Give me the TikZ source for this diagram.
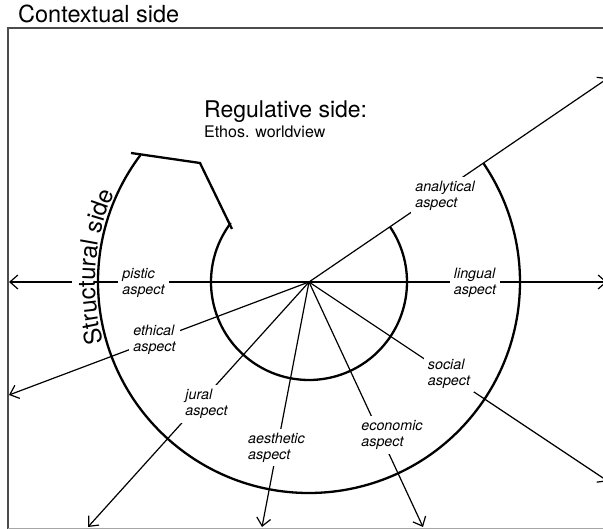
\documentclass[tikz,border=0pt]{standalone}
\usepackage{fontspec}
\setmainfont{TeX Gyre Heros}
\usetikzlibrary{arrows.meta,decorations.text}
\begin{document}
\begin{tikzpicture}[x=1pt,y=1pt,
  frame/.style={draw=black!70,line width=1.2pt},
  aspline/.style={line width=1.2pt},
  arr/.style={aspline,-{Straight Barb[length=8pt,width=14pt]}},
  ring/.style={line width=2.3pt},
  lbl/.style={fill=white,inner sep=4pt,align=left,font=\itshape\fontsize{14.3}{16}\selectfont},
]
\useasboundingbox (0,0) rectangle (603,529);
\clip (0,0) rectangle (603,529);
% frame
\draw[frame] (612,501) -- (8,501) -- (8,-5);
\draw[draw=black!35,line width=1pt] (8,0.6) -- (612,0.6);
% coordinates
\coordinate (O) at (309,247);
\coordinate (tAna) at (608,450.9);
\coordinate (tLin) at (607,247);
\coordinate (tSoc) at (608,47.7);
\coordinate (tEco) at (423,2);
\coordinate (tAes) at (262,2);
\coordinate (tJur) at (88,2);
\coordinate (tEth) at (9,134);
\coordinate (tPis) at (9,247);
\coordinate (pIn) at (95,247);
\coordinate (pOut) at (72,247);
% aspect lines
\draw[arr] (O) -- (tAna);
\draw[arr] (O) -- (tLin);
\draw[arr] (O) -- (tSoc);
\draw[arr] (O) -- (tEco);
\draw[arr] (O) -- (tAes);
\draw[arr] (O) -- (tJur);
\draw[arr] (O) -- (tEth);
\draw[aspline] (O) -- (pIn);
\draw[arr] (pOut) -- (tPis);
% labels
\node[lbl] (ana) at (445,333.5) {analytical\\aspect};
\node[lbl] (lin) at (475,246) {lingual\\aspect};
\node[lbl] (pis) at (143.5,246.5) {pistic\\aspect};
\node[lbl] (eth) at (154.5,189) {ethical\\aspect};
\node[lbl] (jur) at (206.5,125) {jural\\aspect};
\node[lbl] (aes) at (276.5,81.5) {aesthetic\\aspect};
\node[lbl] (eco) at (392,94) {economic\\aspect};
\node[lbl] (soc) at (449,155.5) {social\\aspect};
% rings
\draw[ring] (O) ++(143:211pt) arc[start angle=143, end angle=394.2, radius=211pt];
\draw[ring] (O) ++(143:98pt) arc[start angle=143, end angle=394.2, radius=98pt];
\coordinate (h1) at (131,376);
\coordinate (h2) at (200,366);
\coordinate (h3) at (232,300);
\draw[ring] (h1) -- (h2) -- (h3);
% structural side text
\path[decorate,decoration={text along path,text={|\fontsize{24}{24}\selectfont|Structural side}}]
  (O) ++(196.5:214pt) arc[start angle=196.5, end angle=135, radius=214pt];
% titles
\node[anchor=base west,inner sep=0pt,font=\fontsize{23.5}{26}\selectfont] (ctx) at (18,506) {Contextual side};
\node[anchor=base west,inner sep=0pt,font=\fontsize{23}{25}\selectfont] (reg) at (204,411) {Regulative side:};
\node[anchor=base west,inner sep=0pt,font=\fontsize{16}{18}\selectfont] (eth2) at (204,391) {Ethos. worldview};
\end{tikzpicture}
\end{document}
